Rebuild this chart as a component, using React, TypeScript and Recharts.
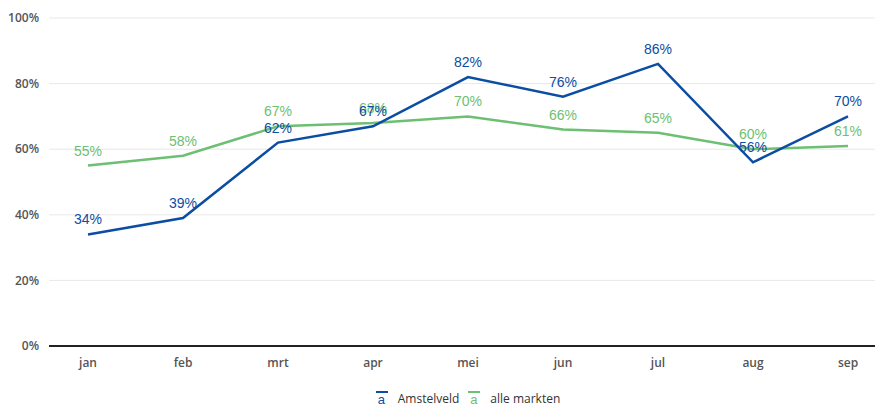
import React from "react";
import { LineChart, Line, XAxis, YAxis, CartesianGrid, LabelList, Legend } from "recharts";

const MONTHS = ["jan", "feb", "mrt", "apr", "mei", "jun", "jul", "aug", "sep"];
const AMSTELVELD = [34, 39, 62, 67, 82, 76, 86, 56, 70];
const ALLE_MARKTEN = [55, 58, 67, 68, 70, 66, 65, 60, 61];
const Y_TICKS = [0, 20, 40, 60, 80, 100];

const BLUE = "#0b4da2";
const GREEN = "#6cbf73";

const data = MONTHS.map((m, i) => ({ month: m, Amstelveld: AMSTELVELD[i], "alle markten": ALLE_MARKTEN[i] }));

const tickStyle = { fontSize: 12, fill: "#555", fontWeight: 600, fontFamily: "'Open Sans', sans-serif" };

function LegendContent() {
  const items = [
    { name: "Amstelveld", color: BLUE },
    { name: "alle markten", color: GREEN },
  ];
  return (
    <div style={{ display: "flex", justifyContent: "center", gap: 8, paddingLeft: 60, fontFamily: "'Open Sans', sans-serif", fontSize: 12, color: "#333" }}>
      {items.map(it => (
        <div key={it.name} style={{ display: "flex", alignItems: "center", gap: 9 }}>
          <div style={{ position: "relative", width: 14, height: 18 }}>
            <div style={{ position: "absolute", top: 2, left: 1, width: 12, height: 2, background: it.color }} />
            <span style={{ position: "absolute", top: 3, left: 3, color: it.color, fontSize: 13, fontFamily: "'Liberation Sans', Arial, sans-serif" }}>a</span>
          </div>
          <span>{it.name}</span>
        </div>
      ))}
    </div>
  );
}

export default function App() {
  return (
    <div style={{ position: "absolute", left: 0, top: 0, width: 875, height: 410, background: "#fff" }}>
      <LineChart width={875} height={410} data={data} margin={{ top: 18, right: 0, bottom: 14, left: 0 }}>
        <CartesianGrid vertical={false} stroke="#e8e8e8" />
        <XAxis
          dataKey="month"
          tick={tickStyle}
          tickLine={false}
          axisLine={{ stroke: "#222", strokeWidth: 2 }}
          padding={{ left: 39, right: 27 }}
          height={32}
          tickMargin={6}
        />
        <YAxis
          domain={[0, 100]}
          ticks={Y_TICKS}
          tickFormatter={v => `${v}%`}
          tick={tickStyle}
          tickLine={false}
          axisLine={false}
          width={49}
          tickMargin={4}
        />
        <Legend verticalAlign="bottom" content={() => <LegendContent />} wrapperStyle={{ bottom: 3 }} />
        <Line type="linear" dataKey="alle markten" stroke={GREEN} strokeWidth={2.5} dot={false} isAnimationActive={false}>
          <LabelList dataKey="alle markten" position="top" offset={10} formatter={(v: any) => `${v}%`}
            style={{ fill: GREEN, fontSize: 14, fontFamily: "'Liberation Sans', Arial, sans-serif" }} />
        </Line>
        <Line type="linear" dataKey="Amstelveld" stroke={BLUE} strokeWidth={2.5} dot={false} isAnimationActive={false}>
          <LabelList dataKey="Amstelveld" position="top" offset={10} formatter={(v: any) => `${v}%`}
            style={{ fill: BLUE, fontSize: 14, fontFamily: "'Liberation Sans', Arial, sans-serif" }} />
        </Line>
      </LineChart>
    </div>
  );
}
